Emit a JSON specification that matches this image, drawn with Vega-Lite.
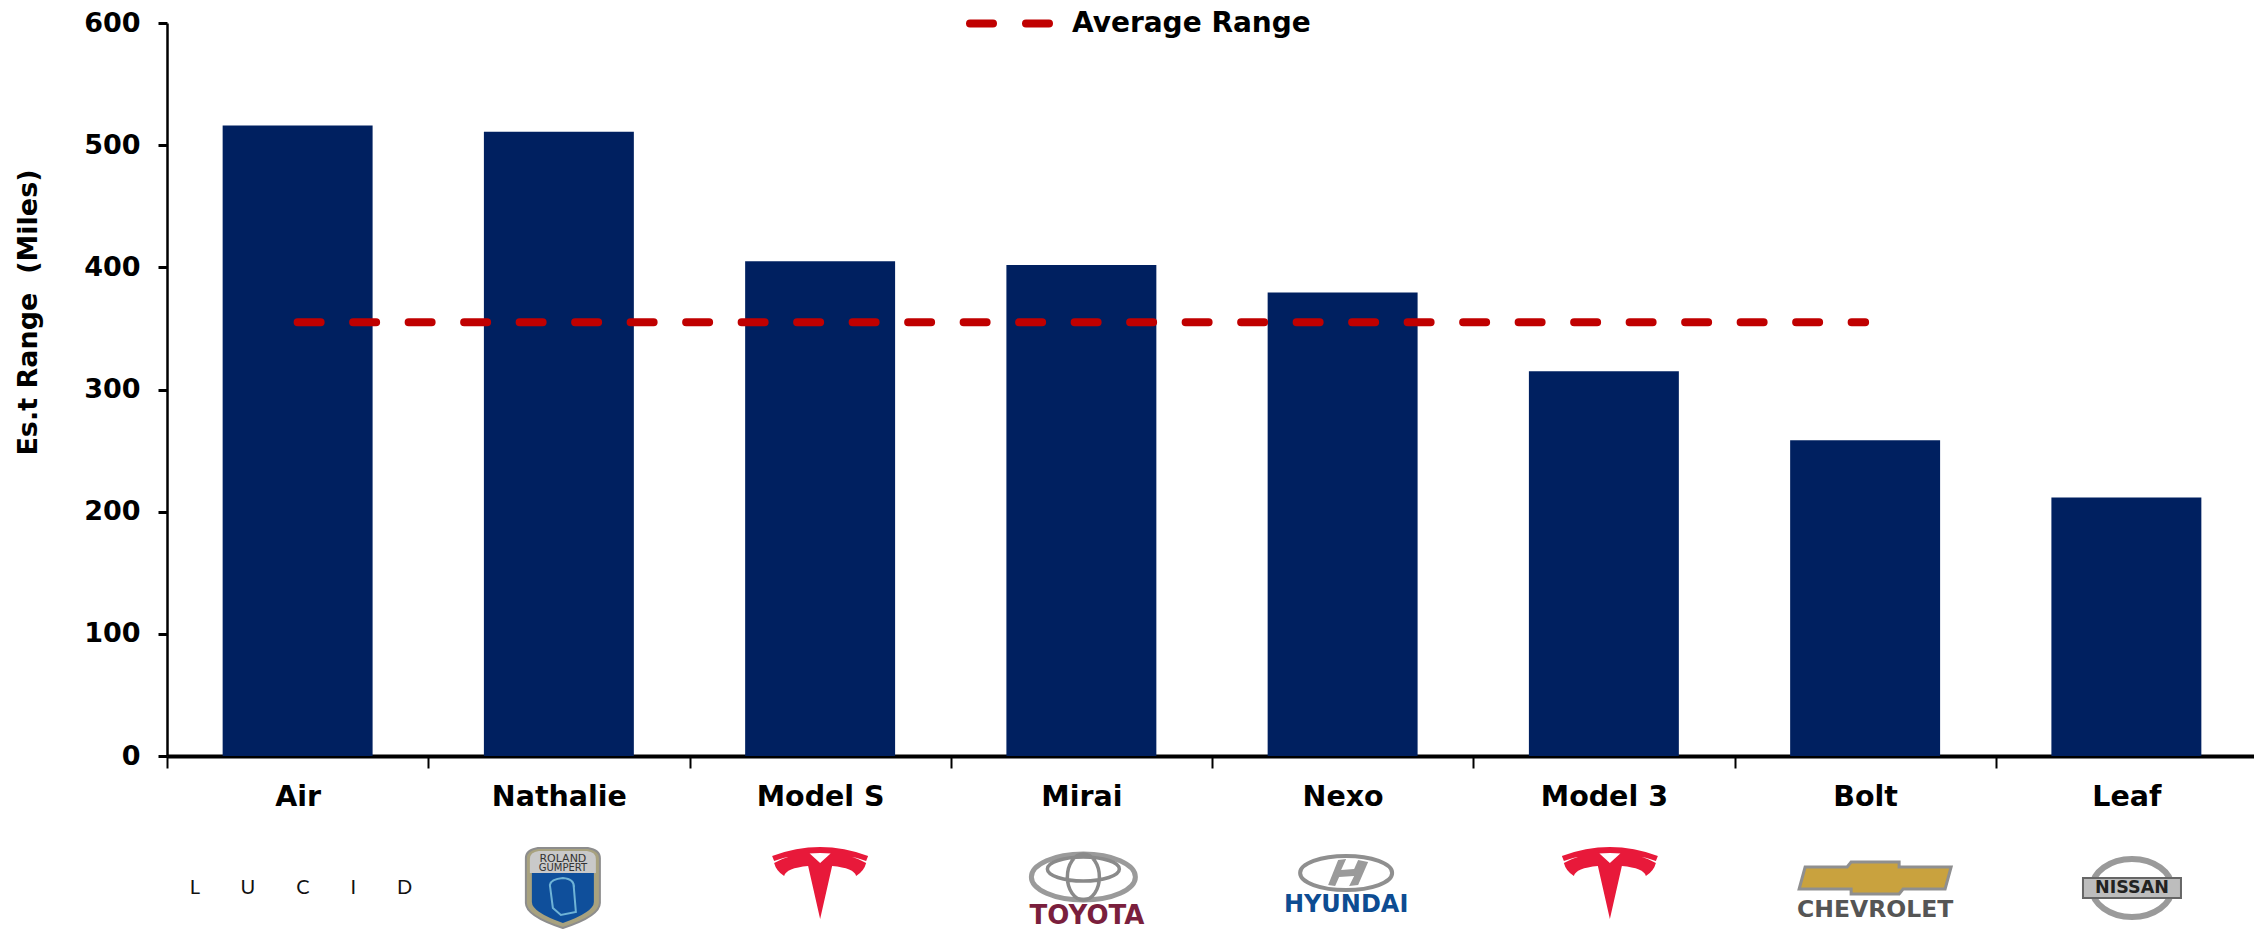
{"$schema":"https://vega.github.io/schema/vega-lite/v6.json","width":2090,"height":733,"autosize":"none","padding":{"left":167,"top":23,"right":-3,"bottom":173},"background":"white","config":{"view":{"stroke":null},"font":"DejaVu Sans","text":{"font":"DejaVu Sans"}},
"data":{"values":[
{"model":"Air","range":516,"average":355,"brand":"Lucid"},
{"model":"Nathalie","range":511,"average":355,"brand":"Roland Gumpert"},
{"model":"Model S","range":405,"average":355,"brand":"Tesla"},
{"model":"Mirai","range":402,"average":355,"brand":"Toyota"},
{"model":"Nexo","range":379.5,"average":355,"brand":"Hyundai"},
{"model":"Model 3","range":315,"average":355,"brand":"Tesla"},
{"model":"Bolt","range":258.5,"average":355,"brand":"Chevrolet"},
{"model":"Leaf","range":211.5,"brand":"Nissan"}]},
"encoding":{"x":{"field":"model","type":"nominal","sort":null,"title":null,"scale":{"paddingInner":0.426,"paddingOuter":0.213},"axis":{"labelAngle":0,"labelFont":"DejaVu Sans","labelFontWeight":"bold","labelFontSize":28.5,"labelColor":"black","labelPadding":14,"labelOffset":130.6,"domainColor":"black","domainWidth":4,"tickColor":"black","tickWidth":2,"tickSize":12,"tickOffset":-130.6,"grid":false}}},
"layer":[
{"mark":{"type":"bar","color":"#002060"},"encoding":{"y":{"field":"range","type":"quantitative","scale":{"domain":[0,600],"nice":false},"title":"Es.t Range\u00a0\u00a0(Miles)","axis":{"values":[0,100,200,300,400,500,600],"grid":false,"labelFont":"DejaVu Sans","labelFontWeight":"bold","labelFontSize":27,"labelColor":"black","labelPadding":18,"domainColor":"black","domainWidth":2.5,"tickColor":"black","tickWidth":3,"tickSize":9,"titleFont":"DejaVu Sans","titleFontWeight":"bold","titleFontSize":27,"titleColor":"black","titleX":-125,"titleY":289,"titleAnchor":"middle"}}}},
{"transform":[{"filter":"isValid(datum.average)"}],"mark":{"type":"line","strokeWidth":8,"strokeDash":[23,32.5],"strokeCap":"round"},"encoding":{"y":{"field":"average","type":"quantitative"},"color":{"datum":"Average Range","scale":{"range":["#C00000"]},"legend":{"orient":"none","legendX":799,"legendY":-43,"title":null,"symbolType":"stroke","symbolSize":6241,"labelFont":"DejaVu Sans","labelFontWeight":"bold","labelFontSize":28,"labelColor":"black","labelOffset":19,"labelLimit":400,"encode":{"symbols":{"update":{"strokeDash":{"value":[23,33]},"strokeCap":{"value":"round"},"strokeWidth":{"value":8}}}}}}}},
{"transform":[{"filter":"datum.brand=='Lucid'"}],"mark":{"type":"text","text":"L\u00a0\u00a0\u00a0\u00a0\u00a0\u00a0\u00a0\u00a0U\u00a0\u00a0\u00a0\u00a0\u00a0\u00a0\u00a0\u00a0C\u00a0\u00a0\u00a0\u00a0\u00a0\u00a0\u00a0\u00a0I\u00a0\u00a0\u00a0\u00a0\u00a0\u00a0\u00a0\u00a0D","font":"Lato","fontSize":20,"color":"#111111","xOffset":3.4,"yOffset":132},"encoding":{"y":{"datum":0}}},
{"transform":[{"filter":"datum.brand=='Roland Gumpert'"}],"mark":{"type":"point","filled":true,"size":4,"opacity":1,"fill":"#a8a27f","stroke":"#8d8d8d","strokeWidth":2,"shape":"M-37,-30 Q-37,-38 -25,-40 L25,-40 Q37,-38 37,-30 L37,15 Q37,28 0,40 Q-37,28 -37,15 Z","xOffset":4,"yOffset":132},"encoding":{"y":{"datum":0}}},
{"transform":[{"filter":"datum.brand=='Roland Gumpert'"}],"mark":{"type":"point","filled":true,"size":4,"opacity":1,"fill":"#c9c9c9","shape":"M-33,-15 L-33,-29 Q-33,-36 -24,-37 L24,-37 Q33,-36 33,-29 L33,-15 Z","xOffset":4,"yOffset":132},"encoding":{"y":{"datum":0}}},
{"transform":[{"filter":"datum.brand=='Roland Gumpert'"}],"mark":{"type":"point","filled":true,"size":4,"opacity":1,"fill":"#0f4f9b","shape":"M-31,-15 L31,-15 L31,14 Q31,24 0,35 Q-31,24 -31,14 Z","xOffset":4,"yOffset":132},"encoding":{"y":{"datum":0}}},
{"transform":[{"filter":"datum.brand=='Roland Gumpert'"}],"mark":{"type":"point","filled":false,"size":4,"opacity":1,"stroke":"#6fb3d6","strokeWidth":2,"shape":"M-10,20 L-13,-3 Q-12,-9 0,-10 Q12,-9 11,0 L13,24 L-2,27 Z","xOffset":4,"yOffset":132},"encoding":{"y":{"datum":0}}},
{"transform":[{"filter":"datum.brand=='Roland Gumpert'"}],"mark":{"type":"text","text":"ROLAND","fontSize":11,"color":"#333333","xOffset":4,"yOffset":103},"encoding":{"y":{"datum":0}}},
{"transform":[{"filter":"datum.brand=='Roland Gumpert'"}],"mark":{"type":"text","text":"GUMPERT","fontSize":10,"color":"#333333","xOffset":4,"yOffset":112},"encoding":{"y":{"datum":0}}},
{"transform":[{"filter":"datum.model=='Model S'"}],"mark":{"type":"point","filled":true,"size":4,"opacity":1,"fill":"#E8193A","shape":"M-48,-27 Q0,-45 48,-27 L46,-22 Q0,-38 -46,-22 Z M-46,-20 Q-30,-29 -11,-30 L0,-20 L11,-30 Q30,-29 46,-20 Q44,-12 36,-7 Q34,-15 12,-17 L0,36 L-12,-17 Q-34,-15 -36,-7 Q-44,-12 -46,-20 Z","xOffset":0,"yOffset":127},"encoding":{"y":{"datum":0}}},
{"transform":[{"filter":"datum.model=='Model 3'"}],"mark":{"type":"point","filled":true,"size":4,"opacity":1,"fill":"#E8193A","shape":"M-48,-27 Q0,-45 48,-27 L46,-22 Q0,-38 -46,-22 Z M-46,-20 Q-30,-29 -11,-30 L0,-20 L11,-30 Q30,-29 46,-20 Q44,-12 36,-7 Q34,-15 12,-17 L0,36 L-12,-17 Q-34,-15 -36,-7 Q-44,-12 -46,-20 Z","xOffset":6,"yOffset":127},"encoding":{"y":{"datum":0}}},
{"transform":[{"filter":"datum.brand=='Toyota'"}],"mark":{"type":"point","filled":false,"size":4,"opacity":1,"stroke":"#9a9a9a","strokeWidth":5,"shape":"M-52,0 A52,23 0 1 0 52,0 A52,23 0 1 0 -52,0 Z","xOffset":2,"yOffset":121},"encoding":{"y":{"datum":0}}},
{"transform":[{"filter":"datum.brand=='Toyota'"}],"mark":{"type":"point","filled":false,"size":4,"opacity":1,"stroke":"#8a8a8a","strokeWidth":3.5,"shape":"M-16,0 A16,23 0 1 0 16,0 A16,23 0 1 0 -16,0 Z M-36,-8 A36,12 0 1 1 36,-8 A36,12 0 1 1 -36,-8 Z","xOffset":2,"yOffset":121},"encoding":{"y":{"datum":0}}},
{"transform":[{"filter":"datum.brand=='Toyota'"}],"mark":{"type":"text","text":"TOYOTA","fontSize":26,"fontWeight":"bold","color":"#7A1F3D","xOffset":5.6,"yOffset":160},"encoding":{"y":{"datum":0}}},
{"transform":[{"filter":"datum.brand=='Hyundai'"}],"mark":{"type":"point","filled":false,"size":4,"opacity":1,"stroke":"#8f8f8f","strokeWidth":4,"shape":"M-46,0 A46,17 0 1 0 46,0 A46,17 0 1 0 -46,0 Z","xOffset":3.5,"yOffset":117},"encoding":{"y":{"datum":0}}},
{"transform":[{"filter":"datum.brand=='Hyundai'"}],"mark":{"type":"point","filled":true,"size":4,"opacity":1,"fill":"#9a9a9a","shape":"M-18,12 L-8,-13 L0,-14 L-5,-3 L8,-4 L12,-13 L22,-11 L12,12 L3,13 L8,3 L-7,4 L-11,13 Z","xOffset":3.5,"yOffset":117},"encoding":{"y":{"datum":0}}},
{"transform":[{"filter":"datum.brand=='Hyundai'"}],"mark":{"type":"text","text":"HYUNDAI","fontSize":24,"fontWeight":"bold","color":"#0D4C92","xOffset":3.5,"yOffset":149},"encoding":{"y":{"datum":0}}},
{"transform":[{"filter":"datum.brand=='Chevrolet'"}],"mark":{"type":"point","filled":true,"size":4,"opacity":1,"fill":"#C9A23E","stroke":"#8f8f8f","strokeWidth":3,"shape":"M-70,-11 L-28,-11 L-24,-16 L24,-16 L24,-11 L76,-11 L70,11 L28,11 L24,16 L-24,16 L-24,11 L-76,11 Z","xOffset":10,"yOffset":122},"encoding":{"y":{"datum":0}}},
{"transform":[{"filter":"datum.brand=='Chevrolet'"}],"mark":{"type":"text","text":"CHEVROLET","fontSize":23.5,"fontWeight":"bold","color":"#555555","xOffset":10,"yOffset":154},"encoding":{"y":{"datum":0}}},
{"transform":[{"filter":"datum.brand=='Nissan'"}],"mark":{"type":"point","filled":false,"size":4,"opacity":1,"stroke":"#9a9a9a","strokeWidth":6,"shape":"M-40,0 A40,29 0 1 0 40,0 A40,29 0 1 0 -40,0 Z","xOffset":5.6,"yOffset":132},"encoding":{"y":{"datum":0}}},
{"transform":[{"filter":"datum.brand=='Nissan'"}],"mark":{"type":"point","filled":true,"size":4,"opacity":1,"fill":"#bdbdbd","stroke":"#666666","strokeWidth":2,"shape":"M-49,-10 L49,-10 L49,10 L-49,10 Z","xOffset":5.6,"yOffset":132},"encoding":{"y":{"datum":0}}},
{"transform":[{"filter":"datum.brand=='Nissan'"}],"mark":{"type":"text","text":"NISSAN","fontSize":17.5,"fontWeight":"bold","color":"#222222","xOffset":5.6,"yOffset":132},"encoding":{"y":{"datum":0}}}
]}
